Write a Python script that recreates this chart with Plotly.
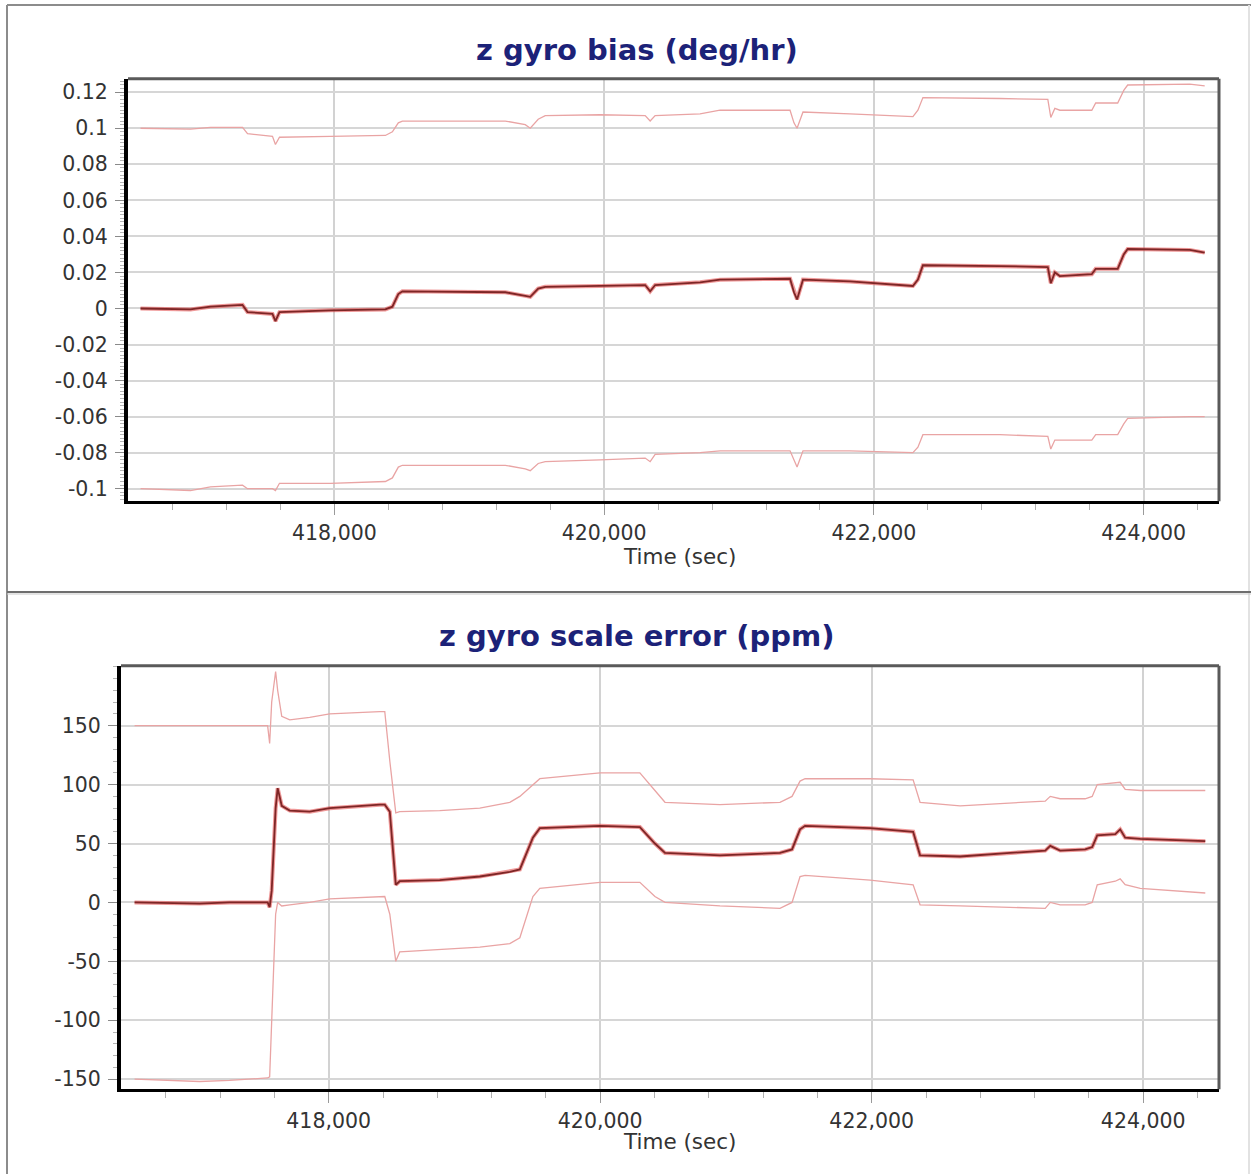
import plotly.graph_objects as go

# ---------------- data ----------------
bias_time = [416563, 416933, 417081, 417267, 417319, 417356, 417489, 417541, 417563, 417593,
             417970, 418378, 418430, 418474, 418504, 418933, 419267, 419415, 419452, 419511,
             419563, 419970, 420304, 420341, 420378, 420711, 420859, 421378, 421407, 421430,
             421474, 421822, 422289, 422326, 422363, 422933, 423289, 423311, 423341, 423378,
             423615, 423644, 423807, 423852, 423881, 424341, 424452]
bias_est = [0.000, -0.0005, 0.001, 0.0015, 0.002, -0.002, -0.003, -0.003, -0.007, -0.002,
            -0.001, -0.0005, 0.001, 0.008, 0.0095, 0.009, 0.009, 0.007, 0.0065, 0.011,
            0.012, 0.0125, 0.013, 0.0095, 0.013, 0.0145, 0.016, 0.0165, 0.009, 0.005,
            0.016, 0.015, 0.0125, 0.016, 0.024, 0.0235, 0.023, 0.014, 0.020, 0.018,
            0.019, 0.022, 0.022, 0.030, 0.033, 0.0325, 0.031]
bias_upper = [0.100, 0.0995, 0.1005, 0.1008, 0.1005, 0.097, 0.096, 0.0955, 0.091, 0.095,
              0.0955, 0.096, 0.098, 0.103, 0.104, 0.104, 0.104, 0.102, 0.100, 0.105,
              0.107, 0.1075, 0.107, 0.104, 0.107, 0.108, 0.110, 0.110, 0.103, 0.100,
              0.109, 0.108, 0.1065, 0.110, 0.117, 0.1165, 0.116, 0.106, 0.111, 0.110,
              0.110, 0.114, 0.114, 0.121, 0.124, 0.1245, 0.1235]
bias_lower = [-0.100, -0.101, -0.099, -0.098, -0.098, -0.1, -0.1, -0.1, -0.101, -0.097,
              -0.097, -0.096, -0.094, -0.088, -0.087, -0.087, -0.087, -0.089, -0.090, -0.086,
              -0.085, -0.084, -0.083, -0.085, -0.081, -0.080, -0.079, -0.079, -0.084, -0.088,
              -0.079, -0.079, -0.080, -0.077, -0.070, -0.070, -0.071, -0.078, -0.073, -0.073,
              -0.073, -0.070, -0.070, -0.064, -0.061, -0.060, -0.060]

scale_time = [416570, 417049, 417270, 417550, 417565, 417580, 417609, 417624, 417654, 417713,
              417860, 418007, 418376, 418413, 418450, 418494, 418523, 418818, 419113, 419334,
              419408, 419504, 419555, 419998, 420292, 420403, 420477, 420882, 421324, 421413,
              421472, 421509, 421988, 422305, 422356, 422651, 423020, 423278, 423315, 423388,
              423572, 423624, 423661, 423794, 423830, 423867, 423978, 424457]
scale_est = [0, -1, 0, 0, -4, 10, 80, 97, 82, 78,
             77, 80, 83, 83, 77, 15, 18, 19, 22, 26,
             28, 55, 63, 65, 64, 50, 42, 40, 42, 45,
             62, 65, 63, 60, 40, 39, 42, 44, 48, 44,
             45, 47, 57, 58, 62, 55, 54, 52]
scale_upper = [150, 150, 150, 150, 135, 170, 196, 180, 158, 155,
               157, 160, 162, 162, 120, 76, 77, 78, 80, 85,
               90, 100, 105, 110, 110, 95, 85, 83, 85, 90,
               103, 105, 105, 104, 85, 82, 84, 86, 90, 88,
               88, 90, 100, 102, 102, 96, 95, 95]
scale_lower = [-150, -152, -151, -149, -148, -100, -10, 0, -3, -2,
               0, 3, 5, 5, -10, -50, -42, -40, -38, -35,
               -30, 5, 12, 17, 17, 5, 0, -3, -5, 0,
               22, 23, 19, 15, -2, -3, -4, -5, 0, -2,
               -2, 0, 15, 18, 20, 15, 12, 8]

bias_tickvals = [0.12, 0.1, 0.08, 0.06, 0.04, 0.02, 0, -0.02, -0.04, -0.06, -0.08, -0.1]
bias_ticktext = ["0.12", "0.1", "0.08", "0.06", "0.04", "0.02", "0", "-0.02", "-0.04", "-0.06", "-0.08", "-0.1"]
scale_tickvals = [150, 100, 50, 0, -50, -100, -150]
scale_ticktext = ["150", "100", "50", "0", "-50", "-100", "-150"]
time_tickvals = [418000, 420000, 422000, 424000]
time_ticktext = ["418,000", "420,000", "422,000", "424,000"]

title_top = "z gyro bias (deg/hr)"
title_bottom = "z gyro scale error (ppm)"
xlabel = "Time (sec)"

# ---------------- layout helpers ----------------
W, H = 1251, 1176
def px(x):
    return x / W
def py(y):
    return 1 - y / H

FONT = "DejaVu Sans"
TICKFONT = dict(family=FONT, size=20.5, color="#333333")
LABELFONT = dict(family=FONT, size=21.5, color="#333333")
BOUND_COLOR = "#e9a4a4"
HALO_COLOR = "rgba(225,70,70,0.55)"
CORE_COLOR = "#7e2626"

fig = go.Figure()

def add_panel(t, est, up, lo, xa, ya):
    fig.add_trace(go.Scatter(x=t, y=up, mode="lines", line=dict(color=BOUND_COLOR, width=1.3),
                             xaxis=xa, yaxis=ya, showlegend=False, hoverinfo="skip"))
    fig.add_trace(go.Scatter(x=t, y=lo, mode="lines", line=dict(color=BOUND_COLOR, width=1.3),
                             xaxis=xa, yaxis=ya, showlegend=False, hoverinfo="skip"))
    fig.add_trace(go.Scatter(x=t, y=est, mode="lines", line=dict(color=HALO_COLOR, width=4),
                             xaxis=xa, yaxis=ya, showlegend=False, hoverinfo="skip"))
    fig.add_trace(go.Scatter(x=t, y=est, mode="lines", line=dict(color=CORE_COLOR, width=1.8),
                             xaxis=xa, yaxis=ya, showlegend=False))

add_panel(bias_time, bias_est, bias_upper, bias_lower, "x", "y")
add_panel(scale_time, scale_est, scale_upper, scale_lower, "x2", "y2")

XRANGE = [416470, 424558]

def xaxis_cfg(domain, anchor):
    return dict(domain=domain, anchor=anchor, range=XRANGE, tickmode="array",
                tickvals=time_tickvals, ticktext=time_ticktext, tickfont=TICKFONT,
                showgrid=True, gridcolor="#d2d2d2", gridwidth=2, zeroline=False,
                showline=True, linecolor="#000000", linewidth=3,
                ticks="outside", ticklen=11, tickwidth=1, tickcolor="#9a9a9a",
                ticklabelstandoff=0,
                minor=dict(tickmode="linear", tick0=418000, dtick=400, ticks="outside",
                           ticklen=6, tickcolor="#b0b0b0", showgrid=False))

def yaxis_cfg(domain, anchor, rng, tv, tt, mdt):
    return dict(domain=domain, anchor=anchor, range=rng, tickmode="array",
                tickvals=tv, ticktext=tt, tickfont=TICKFONT,
                showgrid=True, gridcolor="#d6d6d6", gridwidth=2, zeroline=False,
                showline=True, linecolor="#000000", linewidth=4,
                ticks="outside", ticklen=9, tickwidth=1, tickcolor="#8a8a8a",
                ticklabelstandoff=3,
                minor=dict(tickmode="linear", tick0=0, dtick=mdt, ticks="outside",
                           ticklen=4, tickcolor="#b5b5b5", showgrid=False))

fig.update_layout(
    width=W, height=H, margin=dict(l=0, r=0, t=0, b=0),
    paper_bgcolor="white", plot_bgcolor="white", showlegend=False,
    xaxis=xaxis_cfg([px(128), px(1219)], "y"),
    yaxis=yaxis_cfg([py(502), py(79)], "x", [-0.1069, 0.1274], bias_tickvals, bias_ticktext, 0.002),
    xaxis2=xaxis_cfg([px(121), px(1219)], "y2"),
    yaxis2=yaxis_cfg([py(1091), py(667)], "x2", [-158.5, 200.8], scale_tickvals, scale_ticktext, 10),
)

# plot-area top/right borders (grey)
for xr, yr in (("x domain", "y domain"), ("x2 domain", "y2 domain")):
    fig.add_shape(type="line", xref=xr, yref=yr, x0=0, x1=1, y0=1, y1=1,
                  line=dict(color="#5a5a5a", width=3), layer="above")
    fig.add_shape(type="line", xref=xr, yref=yr, x0=1, x1=1, y0=0, y1=1,
                  line=dict(color="#5a5a5a", width=3), layer="above")

# outer panel frames
fig.add_shape(type="line", xref="paper", yref="paper", x0=px(7), x1=px(1251), y0=py(5), y1=py(5),
              line=dict(color="#8c8c8c", width=2), layer="below")
fig.add_shape(type="line", xref="paper", yref="paper", x0=px(7), x1=px(7), y0=py(1176), y1=py(5),
              line=dict(color="#8c8c8c", width=2), layer="below")
fig.add_shape(type="line", xref="paper", yref="paper", x0=px(1249), x1=px(1249), y0=py(1176), y1=py(5),
              line=dict(color="#e2e2e2", width=2), layer="below")
fig.add_shape(type="line", xref="paper", yref="paper", x0=px(7), x1=px(1251), y0=py(593), y1=py(593),
              line=dict(color="#6e6e6e", width=2), layer="below")
fig.add_shape(type="line", xref="paper", yref="paper", x0=px(7), x1=px(1251), y0=py(595), y1=py(595),
              line=dict(color="#c8c8c8", width=1), layer="below")

TITLE_FONT = dict(family=FONT, size=29, color="#1c2278")
fig.add_annotation(text="<b>%s</b>" % title_top, xref="paper", yref="paper", x=px(637), y=py(50),
                   showarrow=False, xanchor="center", yanchor="middle", font=TITLE_FONT)
fig.add_annotation(text="<b>%s</b>" % title_bottom, xref="paper", yref="paper", x=px(637), y=py(637),
                   showarrow=False, xanchor="center", yanchor="middle", font=TITLE_FONT)
fig.add_annotation(text=xlabel, xref="paper", yref="paper", x=px(679), y=py(557),
                   showarrow=False, xanchor="center", yanchor="middle", font=LABELFONT)
fig.add_annotation(text=xlabel, xref="paper", yref="paper", x=px(679), y=py(1143),
                   showarrow=False, xanchor="center", yanchor="middle", font=LABELFONT)

fig.write_html("out.html", config={"displayModeBar": False},
               post_script="document.body.style.margin='0px';")
